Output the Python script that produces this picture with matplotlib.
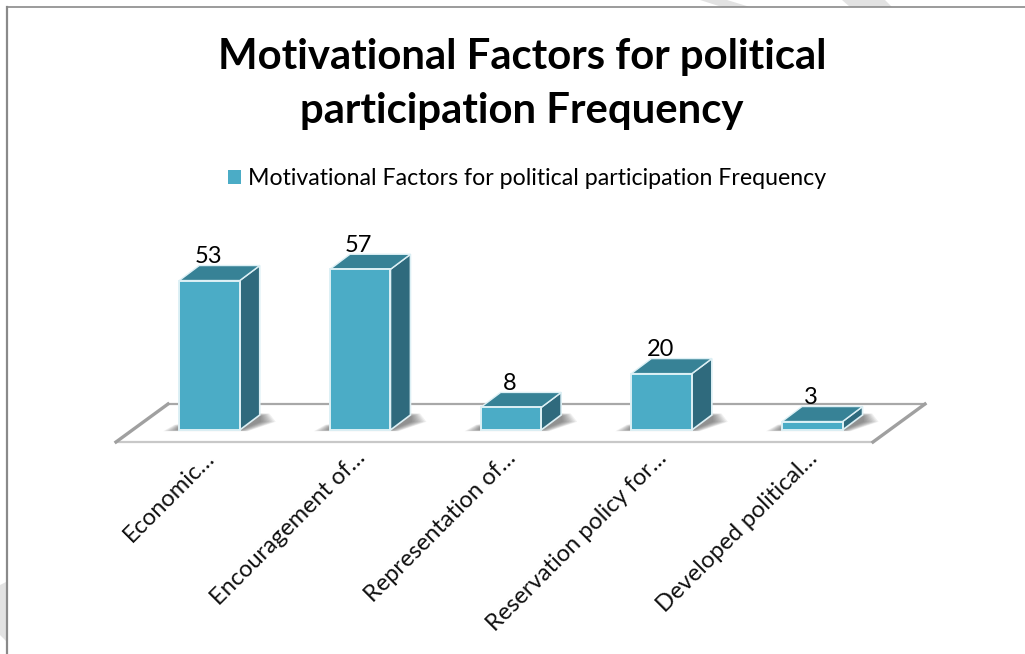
import matplotlib
matplotlib.use("Agg")
import matplotlib.pyplot as plt
from matplotlib.patches import Polygon, Patch
from matplotlib.transforms import ScaledTranslation

categories = ["Economic…", "Encouragement of…", "Representation of…",
              "Reservation policy for…", "Developed political…"]
values = [53, 57, 8, 20, 3]
series_name = "Motivational Factors for political participation Frequency"
title_lines = "Motivational Factors for political\nparticipation Frequency"

FRONT, TOP, SIDE = "#4BACC6", "#378296", "#2F6A7D"
EDGE = "#DDF0F5"
W, H = 1025, 654
X0, XU = 209.5, 150.7      # pixel of category 0, pixels per category
Y0, YU = 430.0, 2.82       # pixel of value 0, pixels per value
BW = 60.5 / XU
DX, DY = 20 / XU, 15 / YU  # 3-D depth

plt.rcParams["font.family"] = ["Lato", "DejaVu Sans"]
fig = plt.figure(figsize=(W / 100, H / 100), dpi=100, facecolor="white")

# decoration layer in pixel space
bg = fig.add_axes([0, 0, 1, 1], zorder=0)
bg.set_xlim(0, W); bg.set_ylim(H, 0); bg.axis("off")
for pts in ([(700, 0), (727, 0), (750, 7), (722, 7)],
            [(842, 0), (885, 0), (892, 7), (850, 7)],
            [(0, 585), (6, 582), (6, 641), (0, 635)]):
    bg.add_patch(Polygon(pts, closed=True, fc="#E2E2E2", ec="none"))
bg.plot([7, W], [7, 7], color="#8A8A8A", lw=1.2)
bg.plot([7, 7], [7, H], color="#8A8A8A", lw=1.6)
bg.add_patch(Polygon([(116, 442), (873, 442), (925, 404), (168, 404)], closed=True,
                     fc="white", ec="none"))
bg.plot([168, 925], [404, 404], color="#A8A8A8", lw=1.6)
bg.plot([116, 873], [442, 442], color="#C8C8C8", lw=1.6)
bg.plot([116, 168], [442, 404], color="#A0A0A0", lw=2.4)
bg.plot([873, 925], [442, 404], color="#A0A0A0", lw=2.4)

# chart axes: data scale aligned to the pixels of the reference
left, right = X0 - 0.5 * XU, X0 + 4.5 * XU
ymax = 60
top_px = Y0 - ymax * YU
ax = fig.add_axes([left / W, 1 - Y0 / H, (right - left) / W, (Y0 - top_px) / H], zorder=1)
ax.set_xlim(-0.5, 4.5); ax.set_ylim(0, ymax)
ax.patch.set_visible(False)
for s in ax.spines.values():
    s.set_visible(False)
ax.set_yticks([])

xs = list(range(len(values)))
# soft floor shadows
for i in xs:
    xl, xr = i - BW / 2, i + BW / 2
    for k in range(10):
        g = 1 - k / 10
        sx = 16 / XU * g
        sy = 3.0 / YU * g
        pts = [(xl - sx, -0.4 * sy), (xr + 0.5 * sx, -0.4 * sy),
               (xr + DX + sx, DY * 0.55), (xr + DX + 0.6 * sx, DY * 0.9 + sy),
               (xr + DX * 0.5, DY * 0.95 + sy), (xl - 0.3 * sx, sy + 2.2 / YU)]
        ax.add_patch(Polygon(pts, closed=True, fc="#3A3A3A", ec="none", alpha=0.075,
                             clip_on=False, zorder=2))

bars = ax.bar(xs, values, width=BW, color=FRONT, edgecolor=EDGE, linewidth=1.4,
              clip_on=False, zorder=4)
for i, v in zip(xs, values):
    xl, xr = i - BW / 2, i + BW / 2
    ax.add_patch(Polygon([(xr, 0), (xr + DX, DY), (xr + DX, v + DY), (xr, v)], closed=True,
                         fc=SIDE, ec=EDGE, lw=1.2, clip_on=False, zorder=3))
    ax.add_patch(Polygon([(xl, v), (xr, v), (xr + DX, v + DY), (xl + DX, v + DY)], closed=True,
                         fc=TOP, ec=EDGE, lw=1.0, clip_on=False, zorder=3))
    ax.annotate(str(v), (i, v), xytext=(-1, 17), textcoords="offset points",
                ha="center", va="center", fontsize=17, color="black", zorder=6,
                annotation_clip=False)

ax.set_xticks(xs)
ax.set_xticklabels(categories, rotation=45, ha="right", va="top", rotation_mode="anchor",
                   fontsize=17, color="#111111")
ax.tick_params(axis="x", length=0, pad=12.5)
shift = ScaledTranslation(-6 / 72 * 0.72, 0, fig.dpi_scale_trans)
for lab in ax.get_xticklabels():
    lab.set_transform(lab.get_transform() + shift)

fig.text(522 / W, 1 - 84 / H, title_lines, ha="center", va="center", fontsize=30.2,
         fontweight="bold", color="black", linespacing=1.52)

fig.legend(handles=[Patch(fc=FRONT, ec="none", label=series_name)], loc="center",
           bbox_to_anchor=(527.5 / W, 1 - 178.5 / H), frameon=False, fontsize=16.65,
           handlelength=0.56, handleheight=0.56, handletextpad=0.3, borderpad=0)

fig.savefig("out.png", dpi=100, facecolor="white")
